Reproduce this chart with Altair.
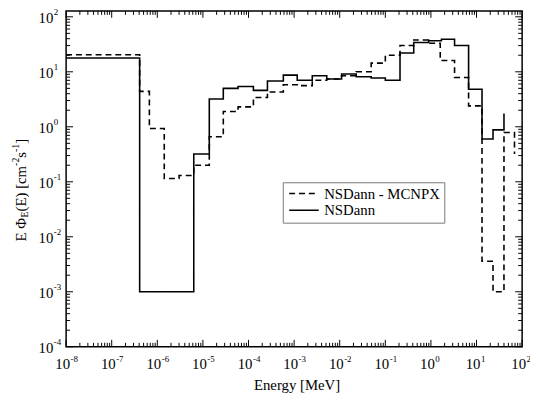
import altair as alt
import pandas as pd

# ---------------- data ----------------
series_names = ["NSDann - MCNPX", "NSDann"]

# NSDann - MCNPX (dashed): left bin edges [MeV] and E*Phi values
mcnpx_edges = [1e-8, 4.1e-7, 6.7e-7, 1.42e-6, 3.0e-6, 6.3e-6, 1.38e-5, 2.8e-5,
               5.9e-5, 1.28e-4, 2.6e-4, 5.8e-4, 1.17e-3, 2.5e-3, 5.2e-3, 0.011,
               0.023, 0.049, 0.10, 0.21, 0.42, 0.89, 1.6, 3.3, 6.7, 13.2, 23, 40, 68]
mcnpx_values = [20.4, 4.4, 0.93, 0.115, 0.13, 0.20, 0.66, 1.9,
                2.3, 3.4, 4.3, 5.8, 5.6, 7.0, 7.4, 8.5,
                10, 14.4, 20, 30, 38, 33, 16, 7.9, 2.4, 0.0036, 0.001, 0.79, 0.32]

# NSDann (solid)
nsdann_edges = [1e-8, 4.1e-7, 6.3e-6, 1.38e-5, 2.8e-5, 5.9e-5, 1.28e-4, 2.6e-4,
                5.8e-4, 1.17e-3, 2.5e-3, 5.2e-3, 0.011, 0.023, 0.049, 0.10,
                0.21, 0.42, 0.89, 1.7, 3.3, 6.7, 13.2, 23, 40]
nsdann_values = [17.8, 0.001, 0.32, 3.2, 5.0, 5.4, 4.6, 6.8,
                 8.7, 7.0, 8.5, 7.4, 9.1, 8.1, 7.7, 7.0,
                 22, 34, 36.6, 39, 30, 4.8, 0.60, 0.88, 1.75]

x_decades = [-8, -7, -6, -5, -4, -3, -2, -1, 0, 1, 2]
y_decades = [-4, -3, -2, -1, 0, 1, 2]
x_title = "Energy [MeV]"
# y title pieces: (text, kind) kind: n = normal, sub = subscript, sup = superscript
y_title_parts = [("E \u03a6", "n"), ("E", "sub"), ("(E) [cm", "n"), ("-2", "sup"),
                 ("s", "n"), ("-1", "sup"), ("]", "n")]

# ---------------- layout ----------------
W, H = 463, 341
FONT = "Liberation Serif"

rows = []
for name, edges, vals in [(series_names[0], mcnpx_edges, mcnpx_values),
                          (series_names[1], nsdann_edges, nsdann_values)]:
    for i, (e, v) in enumerate(zip(edges, vals)):
        rows.append({"series": name, "E": e, "phi": v, "i": i})
df = pd.DataFrame(rows)

xscale = alt.Scale(type="log", domain=[1e-8, 1e2], nice=False)
yscale = alt.Scale(type="log", domain=[1e-4, 128], nice=False)

grid_axis_x = alt.Axis(values=[10.0 ** k for k in x_decades], grid=True, labels=False,
                       ticks=False, domain=False, title=None, gridColor="#d9d9d9",
                       gridWidth=1)
grid_axis_y = alt.Axis(values=[10.0 ** k for k in y_decades], grid=True, labels=False,
                       ticks=False, domain=False, title=None, gridColor="#d9d9d9",
                       gridWidth=1)

lines = alt.Chart(df).mark_line(interpolate="step-after", color="black",
                                strokeWidth=1.6).encode(
    x=alt.X("E:Q", scale=xscale, axis=grid_axis_x),
    y=alt.Y("phi:Q", scale=yscale, axis=grid_axis_y),
    strokeDash=alt.StrokeDash(
        "series:N",
        scale=alt.Scale(domain=series_names, range=[[6, 4], [1, 0]]),
        legend=alt.Legend(title=None, orient="none", legendX=220, legendY=174,
                          fillColor="white", strokeColor="#777777", padding=4,
                          labelFont=FONT, labelFontSize=15, labelColor="black",
                          symbolType="M-1,0H5", symbolSize=100, symbolStrokeWidth=1.5,
                          symbolStrokeColor="black", labelOffset=23, rowPadding=1,
                          labelLimit=300)),
    order="i:Q",
)


def tick_layer(vals, channel, side, length):
    d = pd.DataFrame({"v": vals})
    base = alt.Chart(d).mark_rule(color="black", strokeWidth=1)
    if channel == "y":
        x0, x1 = (0, length) if side == "left" else (W, W - length)
        return base.encode(y=alt.Y("v:Q", scale=yscale, axis=None),
                           x=alt.value(x0), x2=alt.value(x1))
    y0, y1 = (H, H - length) if side == "bottom" else (0, length)
    return base.encode(x=alt.X("v:Q", scale=xscale, axis=None),
                       y=alt.value(y0), y2=alt.value(y1))


x_major = [10.0 ** k for k in x_decades]
y_major = [10.0 ** k for k in y_decades]
x_minor = [m * 10.0 ** k for k in x_decades[:-1] for m in range(2, 10)]
y_minor = [m * 10.0 ** k for k in y_decades[:-1] for m in range(2, 10)]

ticks = []
for side in ["left", "right"]:
    ticks.append(tick_layer(y_major, "y", side, 7))
    ticks.append(tick_layer(y_minor, "y", side, 4))
for side in ["bottom", "top"]:
    ticks.append(tick_layer(x_major, "x", side, 7))
    ticks.append(tick_layer(x_minor, "x", side, 4))

# tick labels 10^k
xl = pd.DataFrame({"v": x_major, "base": ["10"] * len(x_decades),
                   "exp": [str(k) for k in x_decades]})
yl = pd.DataFrame({"v": y_major, "base": ["10"] * len(y_decades),
                   "exp": [str(k) for k in y_decades]})

xlab_base = alt.Chart(xl).mark_text(align="right", baseline="middle", dx=4, font=FONT,
                                    fontSize=15, color="black").encode(
    x=alt.X("v:Q", scale=xscale, axis=None), y=alt.value(H + 18), text="base:N")
xlab_exp = alt.Chart(xl).mark_text(align="left", baseline="middle", dx=4.5, font=FONT,
                                   fontSize=9, color="black").encode(
    x=alt.X("v:Q", scale=xscale, axis=None), y=alt.value(H + 12), text="exp:N")
ylab_base = alt.Chart(yl).mark_text(align="right", baseline="middle", dy=1, font=FONT,
                                    fontSize=15, color="black").encode(
    y=alt.Y("v:Q", scale=yscale, axis=None), x=alt.value(-13), text="base:N")
ylab_exp = alt.Chart(yl).mark_text(align="left", baseline="middle", dy=-5, font=FONT,
                                   fontSize=9, color="black").encode(
    y=alt.Y("v:Q", scale=yscale, axis=None), x=alt.value(-12.5), text="exp:N")

xtitle = alt.Chart(pd.DataFrame({"t": [x_title]})).mark_text(
    align="center", baseline="middle", font=FONT, fontSize=15, color="black").encode(
    x=alt.value(W / 2 + 3), y=alt.value(H + 39), text="t:N")

# y title, rotated, built from pieces
widths = {"n": 15, "sub": 10, "sup": 10}
char_w = {"E": 0.611, " ": 0.25, "\u03a6": 0.76, "(": 0.333, ")": 0.333, "[": 0.333,
          "]": 0.333, "c": 0.444, "m": 0.778, "s": 0.389, "-": 0.333, "1": 0.5, "2": 0.5}
ty_parts = []
cum = 0.0
y_start = 234
x_center = -46
for txt, kind in y_title_parts:
    fs = widths[kind]
    xoff = {"n": 0, "sub": 4, "sup": -5}[kind]
    ty_parts.append(
        alt.Chart(pd.DataFrame({"t": [txt]})).mark_text(
            align="left", baseline="middle", angle=270, font=FONT, fontSize=fs,
            color="black").encode(
            x=alt.value(x_center + xoff), y=alt.value(y_start - cum), text="t:N"))
    cum += sum(char_w.get(c, 0.5) for c in txt) * fs

chart = alt.layer(lines, *ticks, xlab_base, xlab_exp, ylab_base, ylab_exp, xtitle,
                  *ty_parts).properties(
    width=W, height=H,
    autosize=alt.AutoSizeParams(type="none"),
    padding={"left": 59, "top": 0, "right": 8, "bottom": 45},
).configure_view(stroke="black", strokeWidth=1.5)

chart.save("out.html", embed_options={"renderer": "svg", "actions": False})
